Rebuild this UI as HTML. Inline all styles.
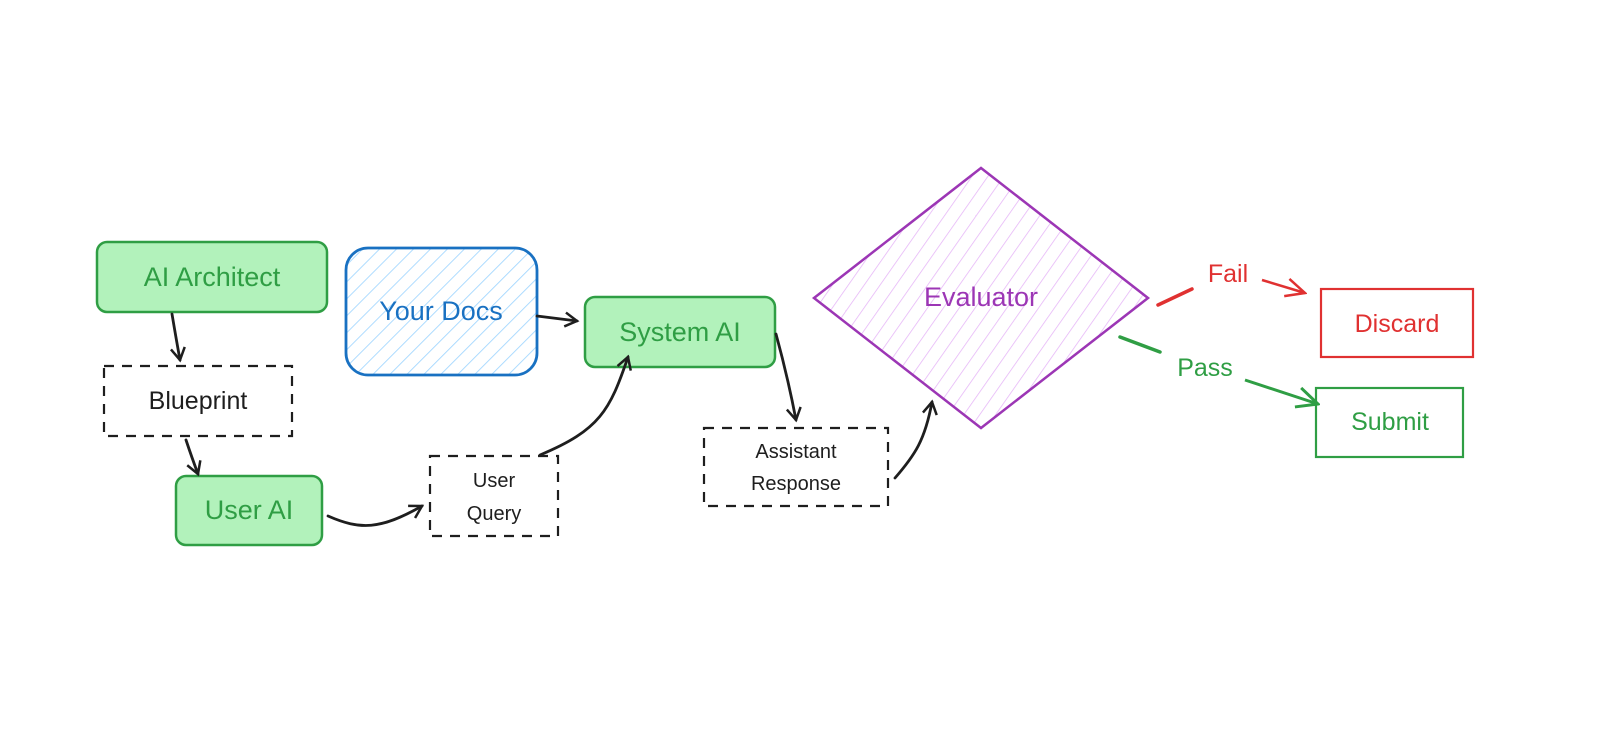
<!DOCTYPE html>
<html><head><meta charset="utf-8"><style>
html,body{margin:0;padding:0;background:#fff;}
svg{display:block;}
text{font-family:"Liberation Sans",sans-serif;}
</style></head><body>
<svg width="1598" height="738" viewBox="0 0 1598 738" xmlns="http://www.w3.org/2000/svg">
<defs>
<pattern id="hb" patternUnits="userSpaceOnUse" width="12" height="12" patternTransform="rotate(45)">
<line x1="0" y1="0" x2="0" y2="12" stroke="#a5d8ff" stroke-width="1.8"/></pattern>
<pattern id="hp" patternUnits="userSpaceOnUse" width="13" height="13" patternTransform="rotate(35)">
<line x1="0" y1="0" x2="0" y2="13" stroke="#e5b3f7" stroke-width="1.5"/></pattern>
<marker id="ak" markerWidth="16" markerHeight="16" refX="13" refY="8" orient="auto" markerUnits="userSpaceOnUse">
<path d="M1,1 L13,8 L1,15" fill="none" stroke="#1e1e1e" stroke-width="2.5"/></marker>
<marker id="ar" markerWidth="22" markerHeight="22" refX="20" refY="11" orient="auto" markerUnits="userSpaceOnUse">
<path d="M1,2 L20,11 L1,20" fill="none" stroke="#e03131" stroke-width="2.5"/></marker>
<marker id="ag" markerWidth="24" markerHeight="24" refX="22" refY="12" orient="auto" markerUnits="userSpaceOnUse">
<path d="M1,2 L22,12 L1,22" fill="none" stroke="#2f9e44" stroke-width="3"/></marker>
</defs>

<rect x="97" y="242" width="230" height="70" rx="10" fill="#b2f2bb" stroke="#2f9e44" stroke-width="2.5"/>
<text x="212" y="286" text-anchor="middle" font-size="27" fill="#2f9e44">AI Architect</text>
<rect x="176" y="476" width="146" height="69" rx="10" fill="#b2f2bb" stroke="#2f9e44" stroke-width="2.5"/>
<text x="249" y="519" text-anchor="middle" font-size="27" fill="#2f9e44">User AI</text>
<rect x="585" y="297" width="190" height="70" rx="10" fill="#b2f2bb" stroke="#2f9e44" stroke-width="2.5"/>
<text x="680" y="341" text-anchor="middle" font-size="27" fill="#2f9e44">System AI</text>

<rect x="104" y="366" width="188" height="70" fill="none" stroke="#1e1e1e" stroke-width="2.2" stroke-dasharray="10 8"/>
<text x="198" y="409" text-anchor="middle" font-size="25" fill="#1e1e1e">Blueprint</text>
<rect x="430" y="456" width="128" height="80" fill="none" stroke="#1e1e1e" stroke-width="2.2" stroke-dasharray="10 8"/>
<text x="494" y="487" text-anchor="middle" font-size="20" fill="#1e1e1e">User</text>
<text x="494" y="520" text-anchor="middle" font-size="20" fill="#1e1e1e">Query</text>
<rect x="704" y="428" width="184" height="78" fill="none" stroke="#1e1e1e" stroke-width="2.2" stroke-dasharray="10 8"/>
<text x="796" y="458" text-anchor="middle" font-size="20" fill="#1e1e1e">Assistant</text>
<text x="796" y="490" text-anchor="middle" font-size="20" fill="#1e1e1e">Response</text>

<rect x="346" y="248" width="191" height="127" rx="22" fill="url(#hb)" stroke="#1971c2" stroke-width="2.8"/>
<text x="441" y="320" text-anchor="middle" font-size="27" fill="#1971c2">Your Docs</text>

<polygon points="814,298 981,168 1148,298 981,428" fill="url(#hp)" stroke="#9c36b5" stroke-width="2.5"/>
<text x="981" y="306" text-anchor="middle" font-size="27" fill="#9c36b5">Evaluator</text>

<rect x="1321" y="289" width="152" height="68" fill="none" stroke="#e03131" stroke-width="2.2"/>
<text x="1397" y="332" text-anchor="middle" font-size="25" fill="#e03131">Discard</text>
<rect x="1316" y="388" width="147" height="69" fill="none" stroke="#2f9e44" stroke-width="2.2"/>
<text x="1390" y="430" text-anchor="middle" font-size="25" fill="#2f9e44">Submit</text>

<g fill="none" stroke="#1e1e1e" stroke-width="2.8" stroke-linecap="round">
<path d="M172,314 Q176,338 180,360" marker-end="url(#ak)"/>
<path d="M186,440 Q192,458 198,474" marker-end="url(#ak)"/>
<path d="M328,516 C360,530 380,530 422,506" marker-end="url(#ak)"/>
<path d="M540,455 C600,430 610,410 628,357" marker-end="url(#ak)"/>
<path d="M537,316 L577,321" marker-end="url(#ak)"/>
<path d="M776,334 Q788,378 796,420" marker-end="url(#ak)"/>
<path d="M895,478 C915,455 925,440 932,402" marker-end="url(#ak)"/>
</g>
<line x1="1158" y1="305" x2="1192" y2="289" stroke="#e03131" stroke-width="3.5" stroke-linecap="round"/>
<path d="M1262,280 L1305,293" stroke="#e03131" stroke-width="2.5" fill="none" marker-end="url(#ar)"/>
<text x="1228" y="282" text-anchor="middle" font-size="25" fill="#e03131">Fail</text>
<line x1="1120" y1="337" x2="1160" y2="352" stroke="#2f9e44" stroke-width="3.5" stroke-linecap="round"/>
<path d="M1245,380 L1318,404" stroke="#2f9e44" stroke-width="3" fill="none" marker-end="url(#ag)"/>
<text x="1205" y="376" text-anchor="middle" font-size="25" fill="#2f9e44">Pass</text>
</svg>
</body></html>
